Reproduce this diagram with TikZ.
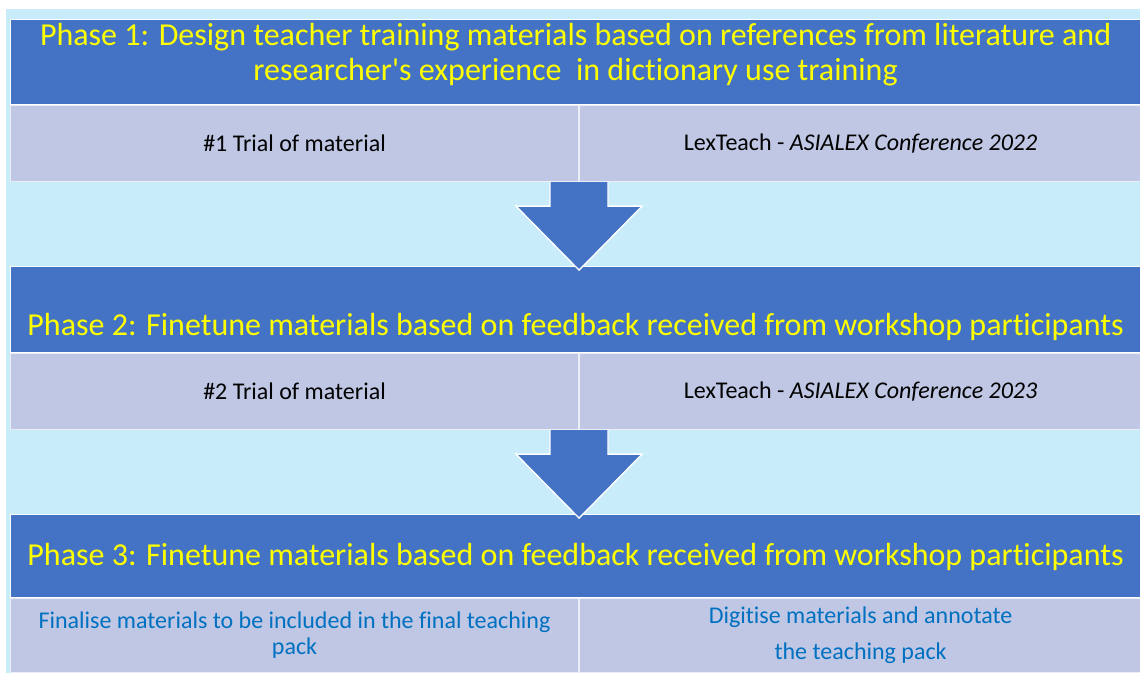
\documentclass[tikz,border=0pt]{standalone}
\usepackage{fontspec}
\setmainfont{Carlito}[Ligatures={TeXOff,NoCommon}]
\usetikzlibrary{positioning}
\definecolor{bgblue}{RGB}{201,236,250}
\definecolor{darkblue}{RGB}{68,114,196}
\definecolor{celllav}{RGB}{191,199,228}
\definecolor{titleyellow}{RGB}{255,255,0}
\definecolor{noteblue}{RGB}{0,112,192}

\begin{document}
\begin{tikzpicture}[x=0.75pt,y=-0.75pt,
  phase/.style={fill=darkblue,draw=white,line width=0.8pt,text=titleyellow,
    font=\fontsize{24}{26.5}\selectfont,minimum width=847.5pt,align=center,inner sep=0pt},
  cell/.style={fill=celllav,draw=white!70!celllav,line width=0.8pt,minimum height=57pt,
    align=center,inner sep=0pt,font=\fontsize{18}{19.5}\selectfont},
  cellL/.style={cell,minimum width=426pt},
  cellR/.style={cell,minimum width=421.5pt},
  blk/.style={fill=darkblue,draw=white,line width=1pt,line join=miter}]
\useasboundingbox (0,0) rectangle (1140,673);
\fill[bgblue] (6,9) rectangle (1140,673);
% phase 1
\node[phase,anchor=north west,minimum height=63.75pt,text height=42pt,text depth=14.25pt] (ph1) at (10,19)
  {Phase 1: Design teacher training materials based on references from literature and\\researcher's experience\ \ in dictionary use training};
\node[cellL,anchor=north west] (r1a) at (ph1.south west) {\#1 Trial of material};
\node[cellR,anchor=north west] (r1b) at (r1a.north east) {LexTeach - \textit{ASIALEX Conference 2022}};
% phase 2
\node[phase,anchor=north west,minimum height=64.5pt,text height=43pt,text depth=4pt] (ph2) at (10,266)
  {Phase 2: Finetune materials based on feedback received from workshop participants};
\node[cellL,anchor=north west] (r2a) at (ph2.south west) {\#2 Trial of material};
\node[cellR,anchor=north west] (r2b) at (r2a.north east) {LexTeach - \textit{ASIALEX Conference 2023}};
% phase 3
\node[phase,anchor=north west,minimum height=62.25pt,text height=20pt,text depth=6pt] (ph3) at (10,514)
  {Phase 3: Finetune materials based on feedback received from workshop participants};
\node[cellL,anchor=north west,minimum height=55.5pt,text=noteblue] (r3a) at (ph3.south west)
  {Finalise materials to be included in the final teaching\\pack};
\node[cellR,anchor=north west,minimum height=55.5pt,text=noteblue] (r3b) at (r3a.north east)
  {Digitise materials and annotate\\[7.5pt]the teaching pack};
% block arrows
\draw[blk,shift={(r1a.south east)}] (-29,0) -- (-29,24) -- (-63,24) -- (0,88) -- (63,24) -- (29,24) -- (29,0);
\draw[blk,shift={(r2a.south east)}] (-29,0) -- (-29,24) -- (-63,24) -- (0,88) -- (63,24) -- (29,24) -- (29,0);
\end{tikzpicture}
\end{document}
